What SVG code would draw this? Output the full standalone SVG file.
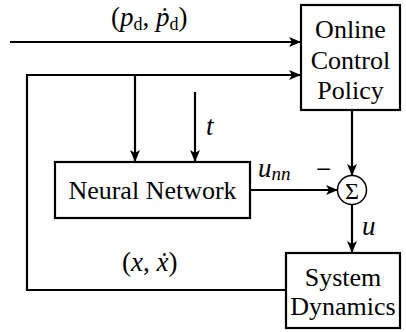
<svg xmlns="http://www.w3.org/2000/svg" width="406" height="332" viewBox="0 0 406 332">
<style>
.box{fill:#fff;stroke:#000;stroke-width:2.2}
.ln{fill:none;stroke:#000;stroke-width:2.2}
</style>
<defs>
<marker id="ah" viewBox="0 0 12 10" refX="11" refY="5" markerWidth="12" markerHeight="10" markerUnits="userSpaceOnUse" orient="auto">
<path d="M0,0 L12,5 L0,10 L3,5 Z" fill="#000"/>
</marker>
</defs>
<g id="connectors">
<line class="ln" x1="10" y1="42" x2="300" y2="42" marker-end="url(#ah)"/>
<polyline class="ln" points="286,290 27,290 27,75 300,75" marker-end="url(#ah)"/>
<line class="ln" x1="135" y1="75" x2="135" y2="161" marker-end="url(#ah)"/>
<line class="ln" x1="195" y1="92" x2="195" y2="161" marker-end="url(#ah)"/>
<line class="ln" x1="352" y1="110" x2="352" y2="175" marker-end="url(#ah)"/>
<line class="ln" x1="250" y1="190" x2="337" y2="190" marker-end="url(#ah)"/>
<line class="ln" x1="352" y1="205" x2="352" y2="252" marker-end="url(#ah)"/>
</g>
<g id="online-control-policy" font-family="Liberation Serif, DejaVu Serif, serif" font-size="26" text-anchor="middle">
<rect class="box" x="301" y="5" width="99" height="105"/>
<text x="350.5" y="38">Online</text>
<text x="350.5" y="69">Control</text>
<text x="350.5" y="99">Policy</text>
</g>
<g id="neural-network" font-family="Liberation Serif, DejaVu Serif, serif" font-size="26" text-anchor="middle">
<rect class="box" x="55" y="162" width="195" height="56"/>
<text x="152.5" y="199">Neural Network</text>
</g>
<g id="sum" font-family="Liberation Serif, DejaVu Serif, serif" text-anchor="middle">
<circle cx="352" cy="190" r="14.5" fill="#fff" stroke="#000" stroke-width="1.5"/>
<text x="352" y="198.5" font-size="24">Σ</text>
</g>
<g id="system-dynamics" font-family="Liberation Serif, DejaVu Serif, serif" font-size="26" text-anchor="middle">
<rect class="box" x="286" y="253" width="114" height="75"/>
<text x="343" y="286">System</text>
<text x="343" y="315">Dynamics</text>
</g>
<g id="labels" font-family="Liberation Serif, DejaVu Serif, serif" font-size="27">
<text x="111" y="26"><tspan>(</tspan><tspan font-style="italic">p</tspan><tspan font-size="18" dy="4">d</tspan><tspan dy="-4">, </tspan><tspan font-style="italic">ṗ</tspan><tspan font-size="18" dy="4">d</tspan><tspan dy="-4">)</tspan></text>
<text x="206" y="135" font-style="italic">t</text>
<text x="258" y="177" font-style="italic">u<tspan font-size="19" dy="3">nn</tspan></text>
<text x="316" y="178">−</text>
<text x="362" y="235" font-style="italic">u</text>
<text x="122" y="271"><tspan>(</tspan><tspan font-style="italic">x</tspan><tspan>, </tspan><tspan font-style="italic">ẋ</tspan><tspan>)</tspan></text>
</g>
</svg>
